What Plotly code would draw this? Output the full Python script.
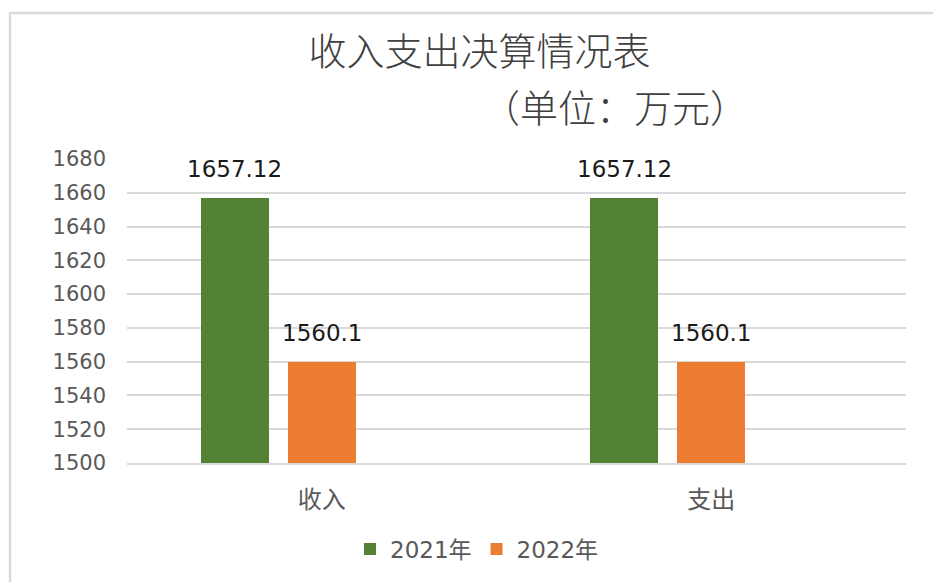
import plotly.graph_objects as go

categories = ["收入", "支出"]
series_names = ["2021年", "2022年"]
values_2021 = [1657.12, 1657.12]
values_2022 = [1560.1, 1560.1]
label_2021 = ["1657.12", "1657.12"]
label_2022 = ["1560.1", "1560.1"]
y_ticks = [1500, 1520, 1540, 1560, 1580, 1600, 1620, 1640, 1660, 1680]
title_line1 = "收入支出决算情况表"
title_line2 = "（单位：万元）"

colors = ["#548235", "#ED7D31"]

W, H = 933, 582
ML, MR, MT, MB = 127, 27, 159, 119
PW, PH = W - ML - MR, H - MT - MB

def px_to_paper_x(px):
    return (px - ML) / PW

def px_to_paper_y(py):
    return (H - MB - py) / PH

bar_w = 0.175
offsets = [-0.311, -0.0875]

fig = go.Figure()
for name, vals, col, off in zip(series_names, [values_2021, values_2022], colors, offsets):
    fig.add_trace(go.Bar(
        x=categories, y=vals, name=name,
        marker=dict(color=col, line=dict(width=0)),
        width=bar_w, offset=off,
    ))

annotations = []
for vals, labs, off in zip([values_2021, values_2022], [label_2021, label_2022], offsets):
    for i, (c, v, t) in enumerate(zip(categories, vals, labs)):
        annotations.append(dict(
            x=i + off + bar_w / 2, y=v, xref="x", yref="y", text=t,
            showarrow=False, yanchor="bottom", xanchor="center", yshift=14,
            font=dict(family="DejaVu Sans", size=23, color="#1a1a1a"),
        ))

title_font = dict(family="Noto Sans CJK SC", size=38, color="#404040", weight=300)
annotations.append(dict(
    x=px_to_paper_x(615), y=px_to_paper_y(106), xref="paper", yref="paper",
    text=title_line2, showarrow=False, xanchor="center", yanchor="middle",
    font=title_font,
))

shapes = [
    dict(type="line", xref="paper", yref="paper",
         x0=px_to_paper_x(9), x1=px_to_paper_x(940), y0=px_to_paper_y(13), y1=px_to_paper_y(13),
         line=dict(color="#d9d9d9", width=2.5)),
    dict(type="line", xref="paper", yref="paper",
         x0=px_to_paper_x(10), x1=px_to_paper_x(10), y0=px_to_paper_y(13), y1=px_to_paper_y(590),
         line=dict(color="#d9d9d9", width=2.5)),
]

fig.update_layout(
    width=W, height=H,
    margin=dict(l=ML, r=MR, t=MT, b=MB, pad=0),
    paper_bgcolor="white", plot_bgcolor="white",
    title=dict(text=title_line1, x=479.5 / W, xanchor="center",
               y=1 - 52 / H, yanchor="middle", yref="container",
               font=title_font),
    barmode="overlay",
    showlegend=True,
    legend=dict(orientation="h", x=px_to_paper_x(477), xanchor="center",
                y=px_to_paper_y(549), yanchor="middle",
                font=dict(family="DejaVu Sans, Noto Sans CJK SC", size=23, color="#595959"),
                itemwidth=30, traceorder="normal"),
    xaxis=dict(type="category", range=[-0.5, 1.5], showgrid=False,
               showline=True, linecolor="#d9d9d9", linewidth=1.5,
               ticks="", ticklabelstandoff=14,
               tickfont=dict(family="Noto Sans CJK SC", size=24, color="#595959")),
    yaxis=dict(range=[1500, 1680], tickvals=y_ticks, showgrid=True,
               gridcolor="#d9d9d9", gridwidth=1.5, zeroline=False, showline=False,
               ticks="", ticklabelstandoff=20,
               tickfont=dict(family="DejaVu Sans", size=21, color="#595959")),
    annotations=annotations,
    shapes=shapes,
    bargap=0,
)

fig.write_html("out.html", config={"displayModeBar": False},
               post_script="document.body.style.margin='0';document.body.style.padding='0';")
